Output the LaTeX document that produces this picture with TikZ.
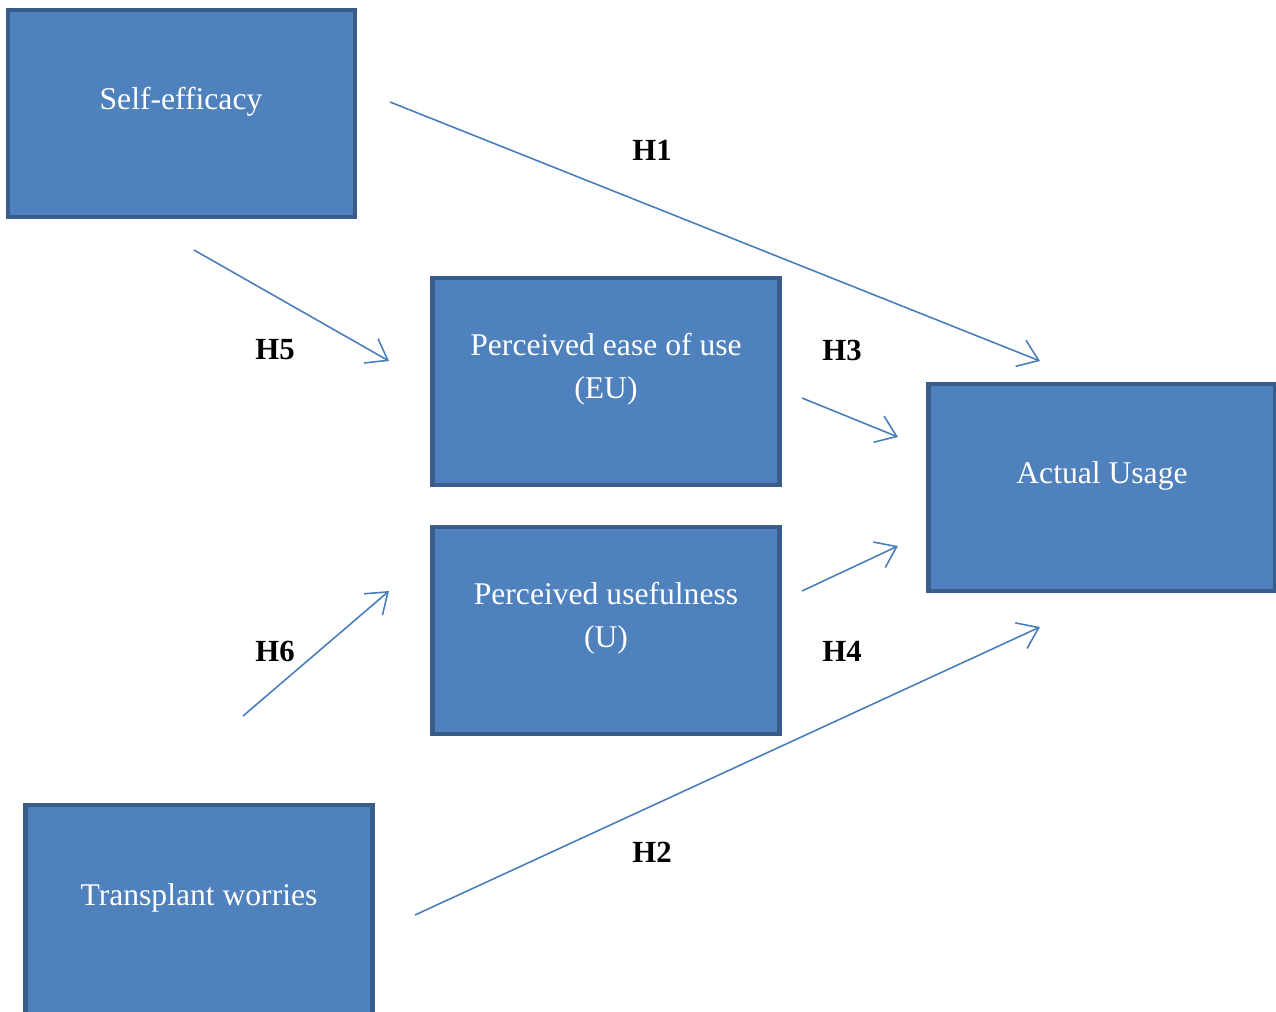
\documentclass[tikz,border=0pt]{standalone}
\usepackage{fontspec}
\setmainfont{Liberation Serif}
\usetikzlibrary{arrows.meta,positioning}
\definecolor{boxfill}{HTML}{4F81BD}
\definecolor{boxline}{HTML}{385D8A}
\definecolor{arrowline}{HTML}{4A7EBB}
\begin{document}
\begin{tikzpicture}[x=0.02cm,y=-0.02cm,
	box/.style={draw=boxline,fill=boxfill,line width=2.4pt,minimum width=347*0.02cm,minimum height=207*0.02cm,inner sep=0pt},
	boxtext/.style={text=white,font=\fontsize{18}{24.5}\selectfont,align=center},
	hyp/.style={font=\fontsize{17.5}{20}\selectfont\bfseries},
	path/.style={draw=arrowline,line width=0.9pt,-{Straight Barb[length=11pt,width=16pt,line width=0.9pt]}}]
		\useasboundingbox (0,0) rectangle (1276,1012);
		\clip (0,0) rectangle (1276,1012);
		% constructs
		\node[box] (se) at (181.5,113.5) {};
		\node[box] (eu) at (606,381.5) {};
		\node[box] (u) at (606,630.5) {};
		\node[box] (au) at (1102,487.5) {};
		\node[box,minimum height=217*0.02cm] (tw) at (199,913.5) {};
		\node[boxtext] (setext) at (181,102) {Self-efficacy};
		\node[boxtext] (eutext) at (606,369) {Perceived ease of use\\(EU)};
		\node[boxtext] (utext) at (606,618) {Perceived usefulness\\(U)};
		\node[boxtext] (autext) at (1102,476) {Actual Usage};
		\node[boxtext] (twtext) at (199,898) {Transplant worries};
		% arrow ends
		\coordinate (h1s) at (390,102);  \coordinate (h1e) at (1040,361);
		\coordinate (h5s) at (194,250);  \coordinate (h5e) at (389,361);
		\coordinate (h3s) at (802,398);  \coordinate (h3e) at (898,437);
		\coordinate (h4s) at (802,591);  \coordinate (h4e) at (898,546);
		\coordinate (h6s) at (243,716);  \coordinate (h6e) at (389,591);
		\coordinate (h2s) at (415,915);  \coordinate (h2e) at (1040,627);
		\draw[path] (h1s) -- (h1e);
		\draw[path] (h5s) -- (h5e);
		\draw[path] (h3s) -- (h3e);
		\draw[path] (h4s) -- (h4e);
		\draw[path] (h6s) -- (h6e);
		\draw[path] (h2s) -- (h2e);
		% hypotheses
		\node[hyp] (H1) at (652,150) {H1};
		\node[hyp] (H5) at (275,350) {H5};
		\node[hyp] (H3) at (842,350) {H3};
		\node[hyp] (H4) at (842,651) {H4};
		\node[hyp] (H6) at (275,651) {H6};
		\node[hyp] (H2) at (652,852) {H2};
\end{tikzpicture}
\end{document}
